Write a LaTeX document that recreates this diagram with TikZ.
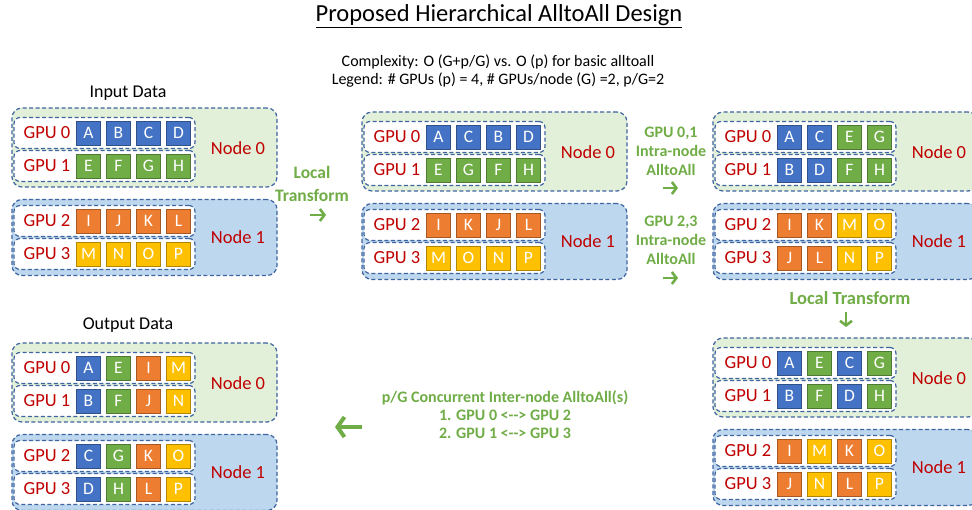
\documentclass[tikz,border=0pt]{standalone}
\usepackage{fontspec}
\setmainfont{Carlito}
\usetikzlibrary{arrows.meta}

\definecolor{blkblue}{HTML}{4472C4}
\definecolor{blkgreen}{HTML}{70AD47}
\definecolor{blkorange}{HTML}{ED7D31}
\definecolor{blkyellow}{HTML}{FFC000}
\definecolor{nodegreen}{HTML}{E2F0D9}
\definecolor{nodeblue}{HTML}{BDD7EE}
\definecolor{dashblue}{HTML}{3F65A0}
\definecolor{labred}{HTML}{C00000}
\definecolor{stepgreen}{HTML}{70AD47}

\tikzset{
  dashbox/.style={draw=dashblue, line width=1.2pt, dash pattern=on 4pt off 2.5pt, inner sep=0pt},
  node0box/.style={dashbox, fill=nodegreen, rounded corners=10pt, minimum width=265pt, minimum height=79pt},
  node1box/.style={dashbox, fill=nodeblue, rounded corners=10pt, minimum width=265pt, minimum height=76pt},
  gpubox/.style={dashbox, fill=white, rounded corners=6pt, minimum width=181pt, minimum height=31pt},
  gpulab/.style={text=labred, font=\fontsize{18.5}{21}\selectfont, inner sep=0pt},
  nodelab/.style={text=labred, font=\fontsize{18.5}{21}\selectfont, inner sep=0pt},
  blk/.style={draw=#1!70!black, fill=#1, line width=0.8pt, minimum size=24pt, inner sep=0pt, text=white, font=\fontsize{17.5}{19}\selectfont},
  steptext/.style={text=stepgreen, font=\bfseries\fontsize{16}{19}\selectfont, align=center, inner sep=0pt},
  garrow/.style={draw=stepgreen, line width=2.6pt, -{Straight Barb[length=4.5pt,width=12pt]}},
  plain/.style={font=\fontsize{18}{21}\selectfont, inner sep=0pt},
}

% one GPU row: name, y, label, letters/colours
\newcommand{\gpurow}[4]{%
  \node[gpubox] (#1) at (104.5,#2) {};
  \node[gpulab] (#1-lab) at (47,#2) {#3};
  \foreach \l/\c [count=\i] in {#4}
    \node[blk=\c] (#1-\i) at (58.5+30*\i,#2) {\l};
}

% the two compute nodes of one layout
\newcommand{\nodepair}[1]{%
  \node[node0box] (#1-n0) at (144.5,147.5) {};
  \node[node1box] (#1-n1) at (144.5,237.5) {};
  \node[nodelab] (#1-n0lab) at (238,148) {Node 0};
  \node[nodelab] (#1-n1lab) at (238,237) {Node 1};
}

\begin{document}
\begin{tikzpicture}[x=1pt, y=-1pt]

  \path[use as bounding box, fill=white] (0,0) rectangle (972,510);

  % === titles ===
  \node[font=\fontsize{24.5}{28}\selectfont, inner sep=0pt] (title) at (499,16)
    {\underline{Proposed Hierarchical AlltoAll Design}};
  \node[font=\fontsize{16}{18}\selectfont, align=center, inner sep=0pt] (legend) at (498,71.5)
    {Complexity: O (G+p/G) vs. O (p) for basic alltoall\\
     Legend: \# GPUs (p) = 4, \# GPUs/node (G) =2, p/G=2};
  \node[plain] (inlab) at (128,93) {Input Data};
  \node[plain] (outlab) at (128,325) {Output Data};

  % === input data ===
  \begin{scope}
    \nodepair{in}
    \gpurow{in-g0}{133}{GPU 0}{A/blkblue,B/blkblue,C/blkblue,D/blkblue}
    \gpurow{in-g1}{166}{GPU 1}{E/blkgreen,F/blkgreen,G/blkgreen,H/blkgreen}
    \gpurow{in-g2}{221}{GPU 2}{I/blkorange,J/blkorange,K/blkorange,L/blkorange}
    \gpurow{in-g3}{254}{GPU 3}{M/blkyellow,N/blkyellow,O/blkyellow,P/blkyellow}
  \end{scope}

  % === after local transform ===
  \begin{scope}[shift={(350,4)}]
    \nodepair{mid}
    \gpurow{mid-g0}{133}{GPU 0}{A/blkblue,C/blkblue,B/blkblue,D/blkblue}
    \gpurow{mid-g1}{166}{GPU 1}{E/blkgreen,G/blkgreen,F/blkgreen,H/blkgreen}
    \gpurow{mid-g2}{221}{GPU 2}{I/blkorange,K/blkorange,J/blkorange,L/blkorange}
    \gpurow{mid-g3}{254}{GPU 3}{M/blkyellow,O/blkyellow,N/blkyellow,P/blkyellow}
  \end{scope}

  % === after intra-node alltoall ===
  \begin{scope}[shift={(701,4)}]
    \nodepair{intra}
    \gpurow{intra-g0}{133}{GPU 0}{A/blkblue,C/blkblue,E/blkgreen,G/blkgreen}
    \gpurow{intra-g1}{166}{GPU 1}{B/blkblue,D/blkblue,F/blkgreen,H/blkgreen}
    \gpurow{intra-g2}{221}{GPU 2}{I/blkorange,K/blkorange,M/blkyellow,O/blkyellow}
    \gpurow{intra-g3}{254}{GPU 3}{J/blkorange,L/blkorange,N/blkyellow,P/blkyellow}
  \end{scope}

  % === second local transform ===
  \begin{scope}[shift={(701,230)}]
    \nodepair{lt}
    \gpurow{lt-g0}{133}{GPU 0}{A/blkblue,E/blkgreen,C/blkblue,G/blkgreen}
    \gpurow{lt-g1}{166}{GPU 1}{B/blkblue,F/blkgreen,D/blkblue,H/blkgreen}
    \gpurow{lt-g2}{221}{GPU 2}{I/blkorange,M/blkyellow,K/blkorange,O/blkyellow}
    \gpurow{lt-g3}{254}{GPU 3}{J/blkorange,N/blkyellow,L/blkorange,P/blkyellow}
  \end{scope}

  % === output data ===
  \begin{scope}[shift={(0,235)}]
    \nodepair{out}
    \gpurow{out-g0}{133}{GPU 0}{A/blkblue,E/blkgreen,I/blkorange,M/blkyellow}
    \gpurow{out-g1}{166}{GPU 1}{B/blkblue,F/blkgreen,J/blkorange,N/blkyellow}
    \gpurow{out-g2}{221}{GPU 2}{C/blkblue,G/blkgreen,K/blkorange,O/blkyellow}
    \gpurow{out-g3}{254}{GPU 3}{D/blkblue,H/blkgreen,L/blkorange,P/blkyellow}
  \end{scope}

  % === step labels ===
  \node[steptext, font=\bfseries\fontsize{17.5}{23}\selectfont] (step1) at (312,183.5) {Local\\Transform};
  \node[steptext] (step2a) at (671,151) {GPU 0,1\\Intra-node\\AlltoAll};
  \node[steptext] (step2b) at (671,240) {GPU 2,3\\Intra-node\\AlltoAll};
  \node[steptext, font=\bfseries\fontsize{18.5}{21}\selectfont] (step3) at (850,298) {Local Transform};
  \node[steptext, font=\bfseries\fontsize{16}{18}\selectfont] (step4) at (505,415)
    {p/G Concurrent Inter-node AlltoAll(s)\\1. GPU 0 <{}-{}-> GPU 2\\2. GPU 1 <{}-{}-> GPU 3};

  % arrows
  \coordinate (a1s) at (310,215);  \coordinate (a1e) at (326,215);
  \coordinate (a2s) at (663,188);  \coordinate (a2e) at (678,188);
  \coordinate (a3s) at (663,278);  \coordinate (a3e) at (678,278);
  \coordinate (a4s) at (846,312);  \coordinate (a4e) at (846,327);
  \coordinate (a5s) at (362,427);  \coordinate (a5e) at (335,427);
  \draw[garrow] (a1s) -- (a1e);
  \draw[garrow] (a2s) -- (a2e);
  \draw[garrow] (a3s) -- (a3e);
  \draw[garrow] (a4s) -- (a4e);
  \draw[garrow, line width=4pt, -{Straight Barb[length=7pt,width=20pt]}] (a5s) -- (a5e);

\end{tikzpicture}
\end{document}
